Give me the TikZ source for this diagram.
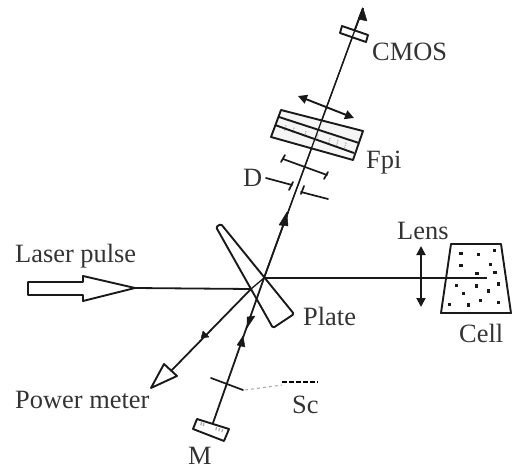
\documentclass[tikz,border=0pt]{standalone}
\usepackage{fontspec}
\setmainfont{Liberation Serif}
\usetikzlibrary{arrows.meta,calc}
\definecolor{txt}{HTML}{333333}
\tikzset{
  lbl/.style={text=txt,font=\fontsize{26.4}{27}\selectfont,inner sep=0pt,anchor=base west},
  beam/.style={draw=black!90,line width=1.8pt},
  thinbeam/.style={draw=black!90,line width=1.3pt},
  outline/.style={draw=black!90,line width=1.9pt,line join=round},
  tee/.style={draw=black!90,line width=1.7pt,line cap=round},
  headfill/.style={fill=black!90,draw=black!90,line width=0.4pt,line join=round},
  twoway/.style={draw=black!90,line width=1.9pt,{Triangle[length=9pt,width=9pt]}-{Triangle[length=9pt,width=9pt]}},
  speck/.style={fill=black!90,draw=none}
}
\begin{document}
\begin{tikzpicture}[x=1pt,y=-1pt]
\useasboundingbox (0,0) rectangle (512,466);
% key points of the beam path
\coordinate (in) at (251,289);
\coordinate (split) at (264,278);
\coordinate (tip) at (363,8);
\coordinate (mirror) at (213,423);
\coordinate (cellend) at (487,278);
\coordinate (lasertip) at (135,288);
\coordinate (meter) at (170,372);
% cell
\draw[outline] (451,244) -- (501,244) -- (511,313) -- (441,313) -- cycle;
\foreach \x/\y in {183/100,236/104,283/91,183/137,272/134,231/160,285/158,170/196,230/198,296/192,191/220,266/213,148/254,296/248,205/255,242/242}
  \fill[speck] ({400+\x/3-1.8},{220+\y/3-1.8}) rectangle ++(3.6,3.6);
% plate
\draw[outline,fill=white,rounded corners=1.5pt] (216,227) -- (221,224) -- (294,314) -- (273,328) -- cycle;
% beams
\draw[beam] (lasertip) -- (in);
\draw[thinbeam] (in) -- (split);
\draw[beam] (split) -- (cellend);
\draw[beam] (split) -- (mirror);
\draw[thinbeam] (split) -- (tip);
\draw[beam] (split) -- (288,212);
\draw[beam] (354,32) -- (tip);
\draw[beam] (in) -- (meter);
% arrowheads on beams
\fill[headfill] (363,8) -- (358,19) -- (367,21) -- cycle;
\fill[headfill] (287,212) -- (279,225) -- (288,226) -- cycle;
\fill[headfill] (247,328) -- (247,317) -- (255,316) -- cycle;
\fill[headfill] (243,336) -- (237,345) -- (245,347) -- cycle;
\fill[headfill] (201,338) -- (203,331) -- (209,337) -- cycle;
% laser arrow
\draw[outline,fill=white] (28,282) -- (83,282) -- (83,276) -- (135,288) -- (83,301) -- (83,295) -- (28,295) -- cycle;
% power meter arrow
\draw[outline,fill=white] (164,364) -- (177,376) -- (151,388) -- cycle;
% CMOS
\draw[outline,fill=white] (342,26) -- (368,35) -- (366,42) -- (340,33) -- cycle;
% translation arrow
\draw[twoway] (298,96) -- (354,118);
% Fabry-Perot
\fill[black!4] (281,110) -- (363,131) -- (353,160) -- (271,137) -- cycle;
\foreach \a in {0.1,0.2,0.35,0.5,0.65,0.75,0.85}
  \draw[black!30,line width=1.2pt,densely dotted] ($(278,123)!\a!(358,146)$) -- ++(-1.5,6);
\draw[thinbeam] (288,212) -- (tip);
\draw[outline] (281,110) -- (363,131) -- (353,160) -- (271,137) -- cycle;
\draw[outline] (279,117) -- (359,143);
\draw[outline] (275,125) -- (354,153);
% irises
\draw[tee] (283,159) -- (327,175);
\draw[tee] (285,155) -- (281,162);
\draw[tee] (328,172) -- (324,179);
\draw[tee] (266,178) -- (292,185);
\draw[tee] (293,182) -- (289,190);
\draw[tee] (301,192) -- (328,199);
\draw[tee] (304,186) -- (301,194);
% lens
\draw[twoway] (421,246) -- (421,307);
% shutter
\draw[tee] (211,378) -- (243,390);
\draw[black!35,line width=1pt,dashed] (245,390) -- (282,385);
\draw[black,line width=2pt,dash pattern=on 5pt off 2pt] (282,382) -- (318,382);
% mirror M
\draw[outline,fill=white] (197,419) -- (229,429) -- (224,441) -- (193,429) -- cycle;
\foreach \a in {0.12,0.2,0.62,0.72,0.82}
  \draw[black!35,line width=1.2pt] ($(198,421)!\a!(228,431)$) -- ++(-0.8,3);
% labels
\node[lbl] (cmos) at (372,60) {CMOS};
\node[lbl] (fpi) at (366,168) {Fpi};
\node[lbl] (d) at (243,186) {D};
\node[lbl] (laser) at (15,262) {Laser pulse};
\node[lbl] (lens) at (397,239) {Lens};
\node[lbl] (plate) at (303,325) {Plate};
\node[lbl] (cell) at (459,342) {Cell};
\node[lbl] (power) at (15,408) {Power meter};
\node[lbl] (sc) at (292,413) {Sc};
\node[lbl] (m) at (188,464) {M};
\end{tikzpicture}
\end{document}
